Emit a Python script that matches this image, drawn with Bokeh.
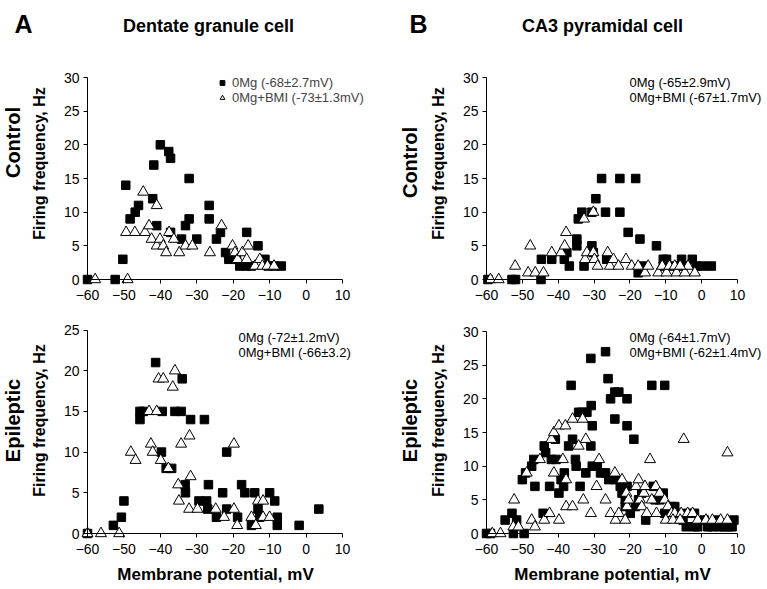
import math
from bokeh.plotting import figure
from bokeh.models import Range1d, Label, Legend, LegendItem, FixedTicker
from bokeh.layouts import gridplot
from bokeh.embed import file_html
from bokeh.resources import INLINE

FONT = "Liberation Sans"

# ---------------- data ----------------
x_ticks = [-60, -50, -40, -30, -20, -10, 0, 10]
y_ticks_top = [0, 5, 10, 15, 20, 25, 30]
y_ticks_bl = [0, 5, 10, 15, 20, 25]
y_ticks_br = [0, 5, 10, 15, 20, 25, 30]

# Dentate granule cell, control
dg_ctl_mg_x = [-60, -52.4, -50.3, -49.5, -48.3, -46.9, -46, -42.1, -41.8, -41, -40, -37.7, -37.2, -37.2,
               -34.2, -33.1, -32.1, -32.1, -30, -26.6, -26.6, -24.6, -23.5, -22.1, -21.2, -19.1, -18.2,
               -16.3, -16.3, -15, -13.2, -11.3, -10.4, -8.6, -6.8]
dg_ctl_mg_y = [0, 0, 3, 14, 9, 10, 11, 12, 17, 8, 20, 19, 18, 7,
               6, 8, 15, 9, 6, 11, 9, 6, 7, 4, 3, 3, 2,
               7, 2, 2, 5, 3, 2, 2, 2]
dg_ctl_bmi_x = [-57.9, -49, -49.4, -47, -44.7, -44.2, -43.1, -42.4, -41, -41, -40.1, -39.2, -38.4, -37.6,
                -36.3, -34.8, -33.1, -31.2, -26.4, -23.2, -20.2, -19.5, -18.8, -17.5, -16.3, -15.9, -14,
                -12.7, -12, -10.6, -8.8]
dg_ctl_bmi_y = [0, 0, 7, 7, 13, 7, 8, 6, 11, 5, 6, 5, 4, 7,
                6, 4, 5, 5, 4, 8, 5, 4, 3, 4, 3, 5, 2,
                3, 2, 2, 2]

# CA3 pyramidal cell, control
ca3_ctl_mg_x = [-59.6, -52.9, -51.9, -44.8, -44.7, -41.8, -38.3, -37.6, -36.9, -34.8, -34.8, -34.4, -33.4,
                -32.8, -30.6, -30.6, -30.2, -29.5, -27.9, -26.8, -26.5, -22.8, -22.8, -20.5, -18.4, -17.7,
                -17.2, -16.3, -12.6, -10.7, -9.8, -5.6, -2.6, -10.7, -8, -5.2, -1.5, 0.4, 2.7]
ca3_ctl_mg_y = [0, 0, 0, 0, 3, 3, 3, 4, 2, 6, 5, 9, 10,
                2, 5, 10, 4, 12, 15, 10, 3, 15, 10, 7, 15, 1,
                6, 2, 5, 3, 3, 3, 3, 2, 2, 2, 2, 2, 2]
ca3_ctl_bmi_x = [-58.9, -56.6, -52, -48.4, -47.8, -46.4, -44.1, -41.8, -39.2, -38.2, -37.8, -32.8, -32.5,
                 -32, -30.2, -30.2, -29.9, -29, -26.2, -25.6, -24.6, -23.2, -21.1, -19.5, -17.7, -15.8,
                 -14.9, -12.1, -9.8, -7, -4.7, -3.8, -1.9, -11, -9, -7.5, -6]
ca3_ctl_bmi_y = [0, 0, 2, 1, 5, 1, 1, 4, 4, 5, 7, 9, 3,
                 4, 10, 4, 3, 2, 4, 2, 3, 2, 3, 2, 2, 1,
                 2, 1, 1, 1, 1, 2, 1, 2, 2, 2, 2]

# Dentate granule cell, epileptic
dg_epi_mg_x = [-60, -52.9, -50.7, -50, -45.6, -45.6, -44.7, -39.7, -39.5, -38.4, -36.9, -36, -34.3, -34,
               -33.2, -33.1, -31.7, -29.4, -27.9, -27.3, -27, -26.8, -24.6, -22.9, -21.8, -21.8, -18.8,
               -17.7, -16.8, -15, -14.1, -13.2, -12.7, -10, -8.6, -7.9, -7.9, -1.9, 3.5, -41.3]
dg_epi_mg_y = [0, 1, 2, 4, 15, 14, 15, 10, 15, 8, 8, 15, 15, 19,
               6, 5, 14, 4, 14, 4, 3, 6, 2, 5, 10, 3, 2,
               6, 5, 1, 5, 3, 2, 5, 4, 2, 1, 1, 3, 21]
dg_epi_bmi_x = [-60, -56.3, -51.3, -48.1, -46.8, -43.1, -42.6, -42.1, -41, -40.5, -39.9, -39.2, -37.8,
                -36.6, -36, -35.1, -34.9, -34.3, -32, -31.7, -32.1, -29.8, -24.8, -22.5, -19.8, -19.8,
                -18.9, -15, -13.8, -13.2, -11.8, -11.8, -10]
dg_epi_bmi_y = [0, 0, 0, 10, 9, 15, 11, 10, 15, 19, 9, 19, 8,
                18, 20, 6, 4, 11, 12, 7, 3, 3, 3, 2, 11, 3,
                1, 2, 1, 4, 4, 2, 2]

# CA3 pyramidal cell, epileptic
ca3_epi_mg_x = [-60, -58.9, -52.5, -49.5, -54.8, -52.9, -51.6, -50, -49.1, -47.4, -46.8, -46.5, -44.2,
                -43.9, -43.5, -42.4, -41.9, -40.8, -40.6, -39.8, -39.2, -38.5, -38.3, -37.1, -36, -35.2,
                -35, -34.3, -33.9, -33.4, -32.3, -32, -30.9, -30.8, -30.5, -30.5, -30.9, -36.4, -29.1,
                -28.2, -26.8, -26.1, -26.8, -25.9, -25.4, -24.2, -24.2, -24, -23.1, -22.7, -22.2, -20.8,
                -20.8, -21.3, -20.8, -21.3, -19.9, -18.9, -18.5, -17.6, -16.7, -15.6, -13.9, -13.5, -13,
                -11.7, -10.7, -10.3, -10.3, -8.4, -7.5, -6.6, -5.2, -4.3, -3.9, -2, -1.1, 0.7, 1.7, 4.4,
                6.2, 9, -2, 3, 5, 7.5, 8.5]
ca3_epi_mg_y = [0, 0, 0, 0, 2, 3, 2, 8, 9, 10, 11, 7, 3,
                13, 12, 7, 11, 14, 11, 6, 8, 7, 9, 13, 14, 11,
                10, 18, 7, 18, 9, 18, 13, 19, 16, 10, 26, 22, 10,
                9, 27, 23, 9, 8, 20, 21, 17, 8, 21, 7, 6, 20,
                16, 5, 7, 4, 3, 14, 4, 5, 6, 2, 22, 7, 5,
                5, 6, 22, 3, 4, 4, 3, 2, 1, 3, 3, 1, 2, 1, 2,
                1, 2, 1, 1, 1, 1, 1]
ca3_epi_bmi_x = [-58.4, -56.1, -52.3, -52.5, -51.1, -48.8, -47.4, -46.5, -45.1, -43.9, -42.4, -41.9, -41.2,
                 -41.2, -39.8, -39.8, -38.7, -38, -37.8, -37.8, -36, -36, -34.3, -33.2, -33, -32.3, -30.9,
                 -29.3, -28.6, -26.8, -25.4, -24.2, -24, -23.1, -22.2, -21.3, -21, -20.8, -20.4, -18.3,
                 -17.6, -17.2, -16.7, -16.1, -15.8, -15.3, -14.4, -13.9, -12.8, -12.6, -11.7, -10.3, -9.4,
                 -8.4, -7.5, -5.7, -3.9, -2.5, -1.1, 1.2, 3, 5.3, 7.2, -5, 7.2, -10, -8, -6]
ca3_epi_bmi_y = [0, 0, 5, 1, 1, 9, 2, 1, 11, 2, 3, 14, 15,
                 9, 2, 16, 11, 16, 8, 4, 17, 4, 13, 17, 5, 14, 3,
                 7, 11, 5, 3, 9, 2, 3, 8, 2, 6, 4, 5, 7,
                 8, 5, 4, 6, 7, 3, 11, 5, 7, 3, 6, 5, 4,
                 3, 3, 3, 3, 3, 2, 2, 2, 2, 2, 14, 12, 2, 2, 2]

# ---------------- helpers ----------------

def make_panel(cx0, cy0, w, h, px_m60, px_10, py_0, py_max, y_max, y_ticks):
    kx = (px_10 - px_m60) / 70.0
    ky = (py_0 - py_max) / float(y_max)
    x0 = -60 + (cx0 - px_m60) / kx
    y1 = (py_0 - cy0) / ky
    p = figure(width=w, height=h, output_backend="svg", toolbar_location=None,
               x_range=Range1d(x0, x0 + w / kx), y_range=Range1d(y1 - h / ky, y1),
               min_border=0, outline_line_color=None,
               background_fill_color="white", border_fill_color="white")
    p.xgrid.visible = False
    p.ygrid.visible = False
    p.xaxis.fixed_location = 0
    p.yaxis.fixed_location = -60
    p.xaxis.bounds = (-60, 10)
    p.yaxis.bounds = (0, y_max)
    p.xaxis.ticker = FixedTicker(ticks=x_ticks)
    p.yaxis.ticker = FixedTicker(ticks=y_ticks)
    for ax in (p.xaxis, p.yaxis):
        ax.axis_line_color = "black"
        ax.axis_line_width = 1
        ax.major_tick_line_color = "black"
        ax.major_tick_out = 4
        ax.major_tick_in = 0
        ax.minor_tick_line_color = None
        ax.major_label_text_font = FONT
        ax.major_label_text_font_size = "14px"
        ax.major_label_text_color = "black"
    p.xaxis.major_label_standoff = 6
    p.yaxis.major_label_standoff = 4

    def to_data(px, py):
        return -60 + (px - px_m60) / kx, (py_0 - py) / ky

    p._to_data = to_data
    return p


def add_text(p, px, py, text, size, bold=False, vertical=False, align="center"):
    x, y = p._to_data(px, py)
    p.add_layout(Label(x=x, y=y, x_units="data", y_units="data", text=text,
                       text_font=FONT, text_font_size=size,
                       text_font_style="bold" if bold else "normal",
                       text_align=align, text_baseline="middle", text_color="black",
                       angle=math.pi / 2 if vertical else 0))


def add_points(p, sx, sy, tx, ty):
    sq = p.scatter(sx, sy, marker="square", size=8.5, fill_color="black", line_color="black")
    tr = p.scatter(tx, ty, marker="triangle", size=11, fill_color="white",
                   line_color="black", line_width=1)
    return sq, tr


# ---------------- panels ----------------
LW, RW = 400, 366
TH, BH = 312, 276

tl = make_panel(0, 0, LW, TH, 87, 342, 279, 77, 30, y_ticks_top)
tr = make_panel(LW, 0, RW, TH, 486, 737, 279, 77, 30, y_ticks_top)
bl = make_panel(0, TH, LW, BH, 87, 342, 533, 329.5, 25, y_ticks_bl)
br = make_panel(LW, TH, RW, BH, 486, 737, 533, 331, 30, y_ticks_br)

sq, tri = add_points(tl, dg_ctl_mg_x, dg_ctl_mg_y, dg_ctl_bmi_x, dg_ctl_bmi_y)
add_points(tr, ca3_ctl_mg_x, ca3_ctl_mg_y, ca3_ctl_bmi_x, ca3_ctl_bmi_y)
add_points(bl, dg_epi_mg_x, dg_epi_mg_y, dg_epi_bmi_x, dg_epi_bmi_y)
add_points(br, ca3_epi_mg_x, ca3_epi_mg_y, ca3_epi_bmi_x, ca3_epi_bmi_y)

legend = Legend(items=[LegendItem(label="0Mg (-68\u00b12.7mV)", renderers=[sq]),
                       LegendItem(label="0Mg+BMI (-73\u00b11.3mV)", renderers=[tri])],
                location=(216, TH - 104.5),
                border_line_color=None, background_fill_alpha=0,
                label_text_font=FONT, label_text_font_size="13px",
                glyph_width=12, glyph_height=15, label_height=15, label_standoff=4,
                padding=0, margin=0, spacing=0)
tl.add_layout(legend)

# titles and labels (page pixel positions)
add_text(tl, 23, 23, "A", "25px", bold=True)
add_text(tl, 208, 25, "Dentate granule cell", "18px", bold=True)
add_text(tl, 12, 142, "Control", "20px", bold=True, vertical=True)
add_text(tl, 39, 163, "Firing frequency, Hz", "16px", bold=True, vertical=True)

add_text(tr, 418, 23, "B", "25px", bold=True)
add_text(tr, 602, 25, "CA3 pyramidal cell", "18px", bold=True)
add_text(tr, 409, 162, "Control", "20px", bold=True, vertical=True)
add_text(tr, 438, 163, "Firing frequency, Hz", "16px", bold=True, vertical=True)
add_text(tr, 629, 82, "0Mg (-65\u00b12.9mV)", "13px", align="left")
add_text(tr, 629, 97, "0Mg+BMI (-67\u00b11.7mV)", "13px", align="left")

add_text(bl, 12, 420, "Epileptic", "20px", bold=True, vertical=True)
add_text(bl, 39, 420, "Firing frequency, Hz", "16px", bold=True, vertical=True)
add_text(bl, 238, 337, "0Mg (-72\u00b11.2mV)", "13px", align="left")
add_text(bl, 238, 352, "0Mg+BMI (-66\u00b13.2)", "13px", align="left")
add_text(bl, 215, 574, "Membrane potential, mV", "17px", bold=True)

add_text(br, 409, 420, "Epileptic", "20px", bold=True, vertical=True)
add_text(br, 438, 420, "Firing frequency, Hz", "16px", bold=True, vertical=True)
add_text(br, 629, 337, "0Mg (-64\u00b11.7mV)", "13px", align="left")
add_text(br, 629, 352, "0Mg+BMI (-62\u00b11.4mV)", "13px", align="left")
add_text(br, 612, 574, "Membrane potential, mV", "17px", bold=True)

grid = gridplot([[tl, tr], [bl, br]], toolbar_location=None)

open("out.html", "w").write(file_html(grid, INLINE))
